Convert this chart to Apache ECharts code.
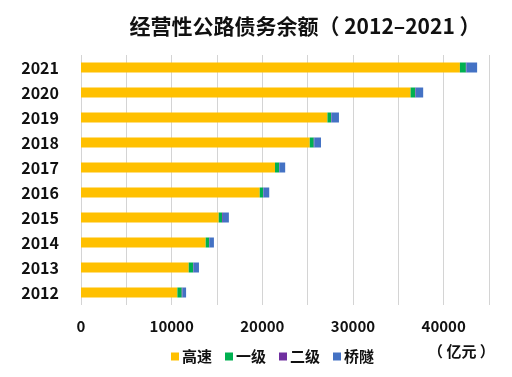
<!DOCTYPE html>
<html>
<head>
<meta charset="utf-8">
<script src="https://cdn.jsdelivr.net/npm/echarts@6/dist/echarts.min.js"></script>
<style>
	html, body { margin: 0; padding: 0; background: #fff; }
	#chart { width: 512px; height: 377px; }
</style>
</head>
<body>
<div id="chart"></div>
<script>
// years, bottom to top
const years = ['2012', '2013', '2014', '2015', '2016', '2017', '2018', '2019', '2020', '2021'];
const seriesNames = ['高速', '一级', '二级', '桥隧'];
const highway = [10630, 11880, 13750, 15190, 19710, 21400, 25230, 27180, 36350, 41790];
const firstClass = [480, 480, 370, 370, 370, 440, 440, 400, 520, 660];
const secondClass = [80, 60, 60, 90, 50, 50, 60, 60, 60, 60];
const bridgeTunnel = [400, 590, 480, 660, 630, 630, 740, 810, 810, 1180];
const colors = ['#FFC000', '#00B050', '#7030A0', '#4472C4'];

const font = '"Noto Sans CJK SC", "Noto Sans", sans-serif';
const chart = echarts.init(document.getElementById('chart'), null, { renderer: 'canvas' });

const dataList = [highway, firstClass, secondClass, bridgeTunnel];

chart.setOption({
	animation: false,
	color: colors,
	textStyle: { fontFamily: font },
	title: {
		text: '经营性公路债务余额（ 2012–2021 ）',
		left: 300,
		textAlign: 'center',
		top: 11,
		textStyle: { fontSize: 21, fontWeight: 'bold', color: '#111', fontFamily: font }
	},
	grid: {
		left: 81,
		right: 23,
		top: 55,
		bottom: 72,
		containLabel: false
	},
	legend: {
		data: seriesNames,
		left: 166,
		top: 344,
		itemWidth: 8,
		itemHeight: 8,
		itemGap: 13,
		icon: 'rect',
		textStyle: { fontSize: 15, fontWeight: 'bold', color: '#111', padding: [0, 0, 0, -2] }
	},
	graphic: [{
		type: 'text',
		left: 428,
		top: 344,
		style: { text: '（ 亿元 ）', font: 'bold 15px ' + font, fill: '#111' }
	}],
	xAxis: {
		type: 'value',
		min: 0,
		max: 45000,
		interval: 5000,
		axisLine: { show: false },
		axisTick: { show: false },
		axisLabel: {
			margin: 14,
			fontSize: 15,
			fontWeight: 'bold',
			color: '#111',
			formatter: v => (v % 10000 === 0 && v < 45000) ? String(v) : ''
		},
		splitLine: { lineStyle: { color: '#d4d4d4', width: 1 } }
	},
	yAxis: {
		type: 'category',
		data: years,
		axisLine: { show: false },
		axisTick: { show: false },
		axisLabel: { margin: 22, fontSize: 16, fontWeight: 'bold', color: '#111' }
	},
	series: seriesNames.map((name, i) => {
		return {
			name: name,
			type: 'bar',
			stack: 'total',
			barWidth: 10,
			data: dataList[i]
		};
	})
});
</script>
</body>
</html>
